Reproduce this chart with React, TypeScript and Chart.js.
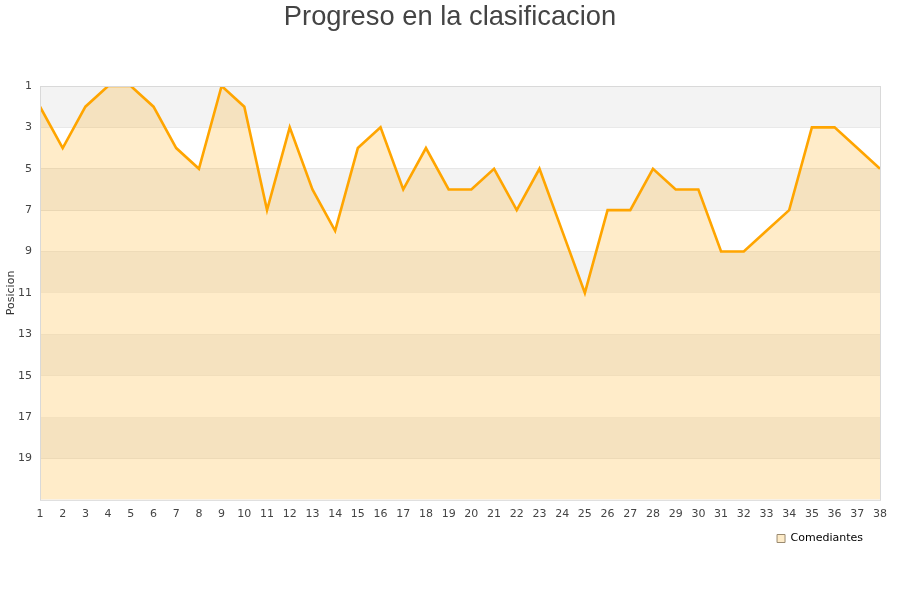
import React, { useEffect, useRef } from "react";
import { Chart, registerables } from "chart.js";

Chart.register(...registerables);

const jornadas: string[] = Array.from({ length: 38 }, (_, i) => String(i + 1));
const posiciones: number[] = [
  2, 4, 2, 1, 1, 2, 4, 5, 1, 2, 7, 3, 6, 8, 4, 3, 6, 4, 6, 6,
  5, 7, 5, 8, 11, 7, 7, 5, 6, 6, 9, 9, 8, 7, 3, 3, 4, 5,
];
const yTicks: number[] = [1, 3, 5, 7, 9, 11, 13, 15, 17, 19];
const seriesName = "Comediantes";
const titleText = "Progreso en la clasificacion";
const yTitle = "Posicion";

const bandsPlugin = {
  id: "bands",
  beforeDraw(chart: any) {
    const { ctx } = chart;
    ctx.save();
    ctx.fillStyle = "#ffffff";
    ctx.fillRect(0, 0, chart.width, chart.height);
    ctx.restore();
  },
  afterLayout(chart: any) {
    const lg = chart.legend;
    if (lg) {
      lg.left -= 13;
      lg.right -= 13;
    }
  },
  beforeDatasetsDraw(chart: any) {
    const { ctx, chartArea, scales } = chart;
    const y = scales.y;
    ctx.save();
    for (let v = 1; v < 21; v += 4) {
      const y1 = y.getPixelForValue(v);
      const y2 = y.getPixelForValue(v + 2);
      ctx.fillStyle = "#f3f3f3";
      ctx.fillRect(chartArea.left, Math.min(y1, y2), chartArea.right - chartArea.left, Math.abs(y2 - y1));
    }
    ctx.restore();
  },
  afterDraw(chart: any) {
    const { ctx, chartArea } = chart;
    ctx.save();
    ctx.strokeStyle = "#d9d9d9";
    ctx.lineWidth = 1;
    ctx.strokeRect(chartArea.left + 0.5, chartArea.top + 0.5, chartArea.right - chartArea.left, chartArea.bottom - chartArea.top);
    ctx.fillStyle = "#444444";
    ctx.font = "27.3px 'Liberation Sans'";
    ctx.textAlign = "center";
    ctx.textBaseline = "alphabetic";
    ctx.fillText(titleText, chart.width / 2, 24.5);
    ctx.restore();
  },
};

export default function App() {
  const ref = useRef<HTMLCanvasElement | null>(null);
  useEffect(() => {
    document.body.style.margin = "0";
    const chart = new Chart(ref.current as HTMLCanvasElement, {
      type: "line",
      data: {
        labels: jornadas,
        datasets: [
          {
            label: seriesName,
            data: posiciones,
            borderColor: "#ffa500",
            backgroundColor: "rgba(255,165,0,0.21)",
            borderWidth: 2.6,
            pointRadius: 0,
            tension: 0,
            fill: { value: 21 },
            clip: 0,
          },
        ],
      },
      options: {
        responsive: false,
        animation: false,
        layout: { padding: { left: 0, right: 20, top: 86, bottom: 46 } },
        plugins: {
          title: { display: false },
          legend: {
            position: "bottom",
            align: "end",
            labels: {
              color: "#000000",
              font: { family: "DejaVu Sans", size: 11 },
              boxWidth: 8,
              boxHeight: 8,
              padding: 4,
              generateLabels: () => [
                {
                  text: seriesName,
                  fillStyle: "#fdebc8",
                  strokeStyle: "#9a8a70",
                  lineWidth: 1,
                  hidden: false,
                  datasetIndex: 0,
                },
              ],
            },
          },
          tooltip: { enabled: false },
        },
        scales: {
          x: {
            offset: false,
            grid: { display: false, drawTicks: false },
            border: { display: false },
            ticks: {
              color: "#444444",
              font: { family: "DejaVu Sans", size: 11 },
              maxRotation: 0,
              autoSkip: false,
              padding: 8,
            },
          },
          y: {
            reverse: true,
            min: 1,
            max: 21,
            afterBuildTicks: (axis: any) => {
              axis.ticks = yTicks.map((v) => ({ value: v }));
            },
            afterFit: (axis: any) => {
              axis.width = 40;
            },
            grid: { color: "rgba(190,190,190,0.45)", drawTicks: false },
            border: { display: false },
            title: {
              display: true,
              text: yTitle,
              color: "#333333",
              font: { family: "DejaVu Sans", size: 11 },
              padding: { top: 5, bottom: 0 },
            },
            ticks: {
              color: "#444444",
              font: { family: "DejaVu Sans", size: 11 },
              padding: 8,
            },
          },
        },
      },
      plugins: [bandsPlugin],
    });
    return () => chart.destroy();
  }, []);
  return (
    <div style={{ width: 900, height: 600 }}>
      <canvas ref={ref} width={900} height={600} />
    </div>
  );
}
